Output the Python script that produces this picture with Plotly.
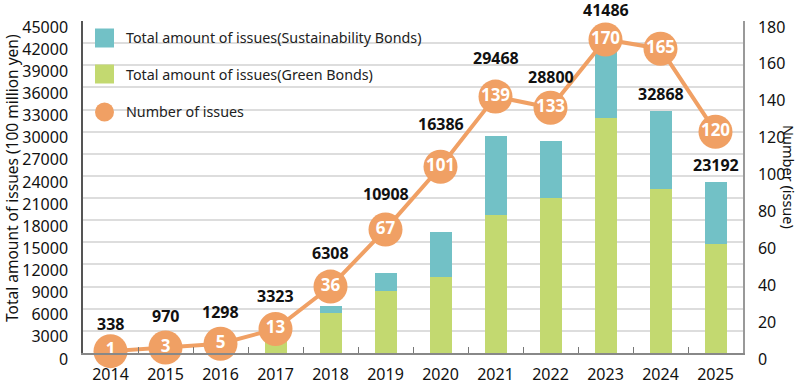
import plotly.graph_objects as go

# ---- data ----
years = ["2014", "2015", "2016", "2017", "2018", "2019", "2020", "2021", "2022", "2023", "2024", "2025"]
green_bonds = [338, 970, 1298, 2200, 5381, 8404, 10300, 18664, 21009, 31852, 22190, 14733]
sustainability_bonds = [0, 0, 0, 1123, 927, 2504, 6086, 10804, 7791, 9634, 10678, 8459]
total_labels = [338, 970, 1298, 3323, 6308, 10908, 16386, 29468, 28800, 41486, 32868, 23192]
issue_counts = [1, 3, 5, 13, 36, 67, 101, 139, 133, 170, 165, 120]

# ---- layout helpers (pixel geometry of the plot area) ----
W, H = 800, 388
PL, PR, PT, PB = 83, 743, 21, 353
label_lift_px = [27, 30, 31, 32, 53, 79, 108, 78, 64, 37, 17, 17]

TEAL = "#72C1C6"
GREEN = "#C3D970"
ORANGE = "#F0A064"
FONT = "Noto Sans"

def px_x(p):
    return (p - PL) / (PR - PL)

def px_y(p):
    return (PB - p) / (PB - PT)

fig = go.Figure()
fig.add_trace(go.Bar(x=years, y=green_bonds, marker=dict(color=GREEN, line=dict(width=0)),
                     width=0.4, name="Total amount of issues(Green Bonds)"))
fig.add_trace(go.Bar(x=years, y=sustainability_bonds, marker=dict(color=TEAL, line=dict(width=0)),
                     width=0.4, name="Total amount of issues(Sustainability Bonds)"))
fig.add_trace(go.Scatter(x=years, y=issue_counts, yaxis="y2", mode="lines+markers+text",
                         line=dict(color=ORANGE, width=4),
                         marker=dict(size=34, color=ORANGE, line=dict(width=0)),
                         text=[f"<b>{c}</b>" for c in issue_counts],
                         textposition="middle center",
                         textfont=dict(color="white", size=17, family=FONT),
                         cliponaxis=False, name="Number of issues"))

annotations = []
for i, (tot, lift) in enumerate(zip(total_labels, label_lift_px)):
    annotations.append(dict(x=i, y=tot, xref="x", yref="y", text=f"<b>{tot}</b>",
                            showarrow=False, yshift=lift, yanchor="middle",
                            font=dict(size=16, color="#111", family=FONT)))

# axis titles
annotations.append(dict(xref="paper", yref="paper", x=px_x(12), y=px_y(178),
                        text="Total amount of issues (100 million yen)", textangle=-90,
                        showarrow=False, xanchor="center", yanchor="middle",
                        font=dict(size=15.5, color="#111", family=FONT)))
annotations.append(dict(xref="paper", yref="paper", x=px_x(789), y=px_y(177),
                        text="Number (issue)", textangle=90,
                        showarrow=False, xanchor="center", yanchor="middle",
                        font=dict(size=14.5, color="#111", family=FONT)))

# custom legend
shapes = []
legend_items = [("Total amount of issues(Sustainability Bonds)", TEAL, "rect", 38),
                ("Total amount of issues(Green Bonds)", GREEN, "rect", 74),
                ("Number of issues", ORANGE, "circle", 112)]
for label, col, kind, cy in legend_items:
    shapes.append(dict(type=kind, xref="paper", yref="paper",
                       x0=px_x(95), x1=px_x(114), y0=px_y(cy + 9.5), y1=px_y(cy - 9.5),
                       fillcolor=col, line=dict(width=0)))
    annotations.append(dict(xref="paper", yref="paper", x=px_x(124), y=px_y(cy),
                            text=label, showarrow=False, xanchor="left", yanchor="middle",
                            font=dict(size=14.3, color="#222", family=FONT)))

fig.update_layout(
    width=W, height=H,
    margin=dict(l=PL, r=W - PR, t=PT, b=H - PB, autoexpand=False),
    paper_bgcolor="white", plot_bgcolor="white",
    barmode="stack", bargap=0.6, showlegend=False,
    font=dict(family=FONT, color="#111"),
    xaxis=dict(type="category", range=[-0.5, len(years) - 0.5], tickson="boundaries",
               ticks="inside", ticklen=6, tickangle=0, automargin=False,
               tickcolor="#777", showline=True, linecolor="#888", linewidth=1.5,
               ticklabelstandoff=6,
               tickfont=dict(size=16, color="#111"), showgrid=False),
    yaxis=dict(range=[0, 45000], dtick=3000, tick0=0, tickformat="d", showgrid=True,
               gridcolor="#DDDDDD", gridwidth=1.5, showline=True, linecolor="#555",
               linewidth=1.5, zeroline=False, ticks="", ticklabelshift=6,
               automargin=False, ticklabelstandoff=10,
               tickfont=dict(size=16, color="#111")),
    yaxis2=dict(range=[0, 180], dtick=20, tick0=0, overlaying="y", side="right",
                showgrid=False, showline=True, linecolor="#999", linewidth=1.5,
                zeroline=False, ticks="", ticklabelshift=6, automargin=False,
                ticklabelstandoff=10,
                tickfont=dict(size=16, color="#111")),
    annotations=annotations, shapes=shapes,
)

fig.write_html("out.html", config={"displayModeBar": False},
               post_script="document.body.style.margin='0px';")
